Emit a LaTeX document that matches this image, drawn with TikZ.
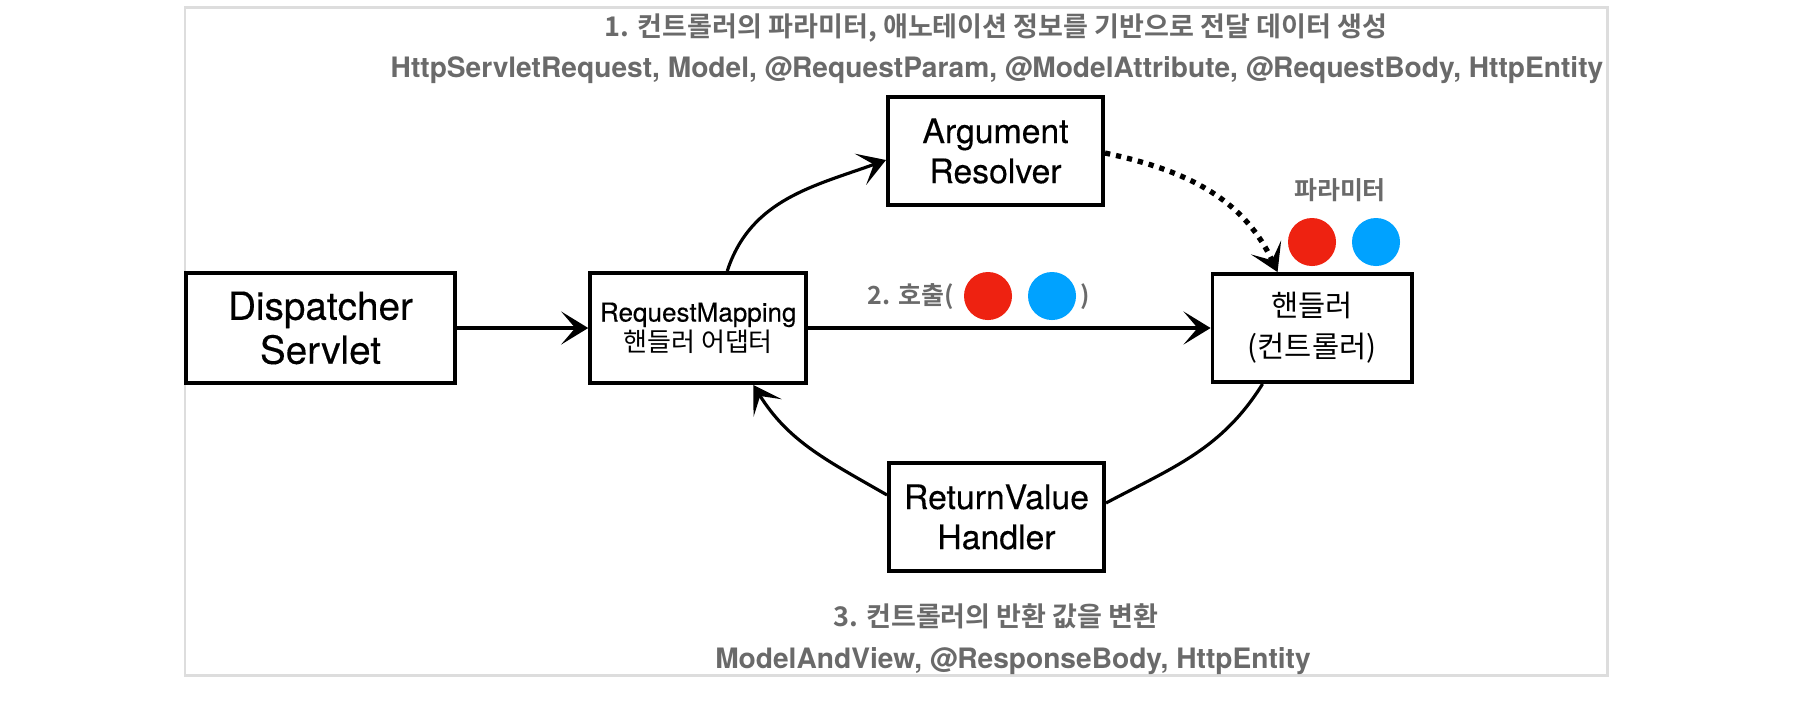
\documentclass[tikz,border=0pt]{standalone}
\usepackage{fontspec}
\setmainfont{TeX Gyre Heros}
\newfontfamily\boxfont{TeX Gyre Heros}[FakeBold=0.3]
\newfontfamily\kr{Noto Sans CJK KR}[BoldFont={Noto Sans CJK KR Bold}]
\usetikzlibrary{positioning,arrows.meta}
\definecolor{notegray}{RGB}{106,106,106}
\definecolor{pred}{RGB}{238,34,17}
\definecolor{pblue}{RGB}{0,162,255}
\definecolor{framegray}{RGB}{221,221,221}
\tikzset{node distance=2cm, auto,
  box/.style={draw, line width=1.1pt, inner sep=0pt, align=center, minimum height=1.08cm, font=\boxfont\fontsize{9.6}{11.4}\selectfont},
  link/.style={line width=0.9pt, -{Stealth[length=7.7pt,width=9.4pt,inset=4pt]}},
  dotlink/.style={link, line width=1.5pt, dash pattern=on 1.5pt off 1.7pt},
  note/.style={text=notegray, font=\bfseries\fontsize{8}{9.5}\selectfont},
  krnote/.style={text=notegray, font=\kr\bfseries\fontsize{7.7}{9}\selectfont},
  ball/.style={circle, fill=#1, minimum size=0.48cm, inner sep=0pt}}
\begin{document}
\begin{tikzpicture}[x=0.01cm, y=-0.01cm]
  \useasboundingbox (0,0) rectangle (1794,708);
  \draw [framegray, line width=0.85pt] (185,7) rectangle (1607,675);

  \node (DS) [box, minimum width=2.69cm, minimum height=1.10cm, font=\boxfont\fontsize{11}{12.5}\selectfont] at (320.5,328) {Dispatcher\\Servlet};
  \node (RM) [box, right of=DS, node distance=3.775cm, minimum width=2.16cm, minimum height=1.10cm, font=\boxfont\fontsize{7.4}{8.5}\selectfont] {RequestMapping\\{\kr 핸들러 어댑터}};
  \node (H) [box, right of=RM, node distance=6.135cm, minimum width=1.99cm, font=\kr\fontsize{8.4}{11.7}\selectfont] {핸들러\\(컨트롤러)};
  \node (AR) [box, minimum width=2.15cm] at (995.5,151) {Argument\\Resolver};
  \node (RV) [box, minimum width=2.15cm] at (996.5,517) {ReturnValue\\Handler};

  \node (t1) [krnote] at (996,28) {1. 컨트롤러의 파라미터, 애노테이션 정보를 기반으로 전달 데이터 생성};
  \node (t2) [note] at (997,70) {HttpServletRequest, Model, @RequestParam, @ModelAttribute, @RequestBody, HttpEntity};
  \node (pm) [krnote, font=\kr\bfseries\fontsize{7.1}{8.5}\selectfont] at (1340,190) {파라미터};
  \node (pa) [ball=pred] at (1312,242) {};
  \node (pb) [ball=pblue] at (1376,242) {};
  \node (call) [krnote, font=\kr\bfseries\fontsize{7.1}{8.5}\selectfont, anchor=west, inner sep=0pt] at (867,297) {2. 호출(};
  \node (ca) [ball=pred] at (988,296) {};
  \node (cb) [ball=pblue] at (1052,296) {};
  \node (cc) [krnote, font=\kr\bfseries\fontsize{7.1}{8.5}\selectfont] at (1085,297) {)};
  \node (t3) [krnote] at (996,616) {3. 컨트롤러의 반환 값을 변환};
  \node (t4) [note] at (1013,661) {ModelAndView, @ResponseBody, HttpEntity};

  \draw [link] (DS) to (RM);
  \draw [link] (RM) to (H);
  \draw [link] ([xshift=0.29cm]RM.north) to [out=72, in=200] ([yshift=-0.09cm]AR.west);
  \draw [dotlink] ([yshift=-0.02cm]AR.east) to [out=-12, in=115] ([xshift=-0.345cm]H.north);
  \draw [line width=0.9pt] ([xshift=-0.495cm]H.south) to [out=-122, in=28] ([yshift=0.14cm]RV.east);
  \draw [link] ([yshift=0.22cm]RV.west) to [out=150, in=-58] ([xshift=0.55cm]RM.south);
\end{tikzpicture}
\end{document}
